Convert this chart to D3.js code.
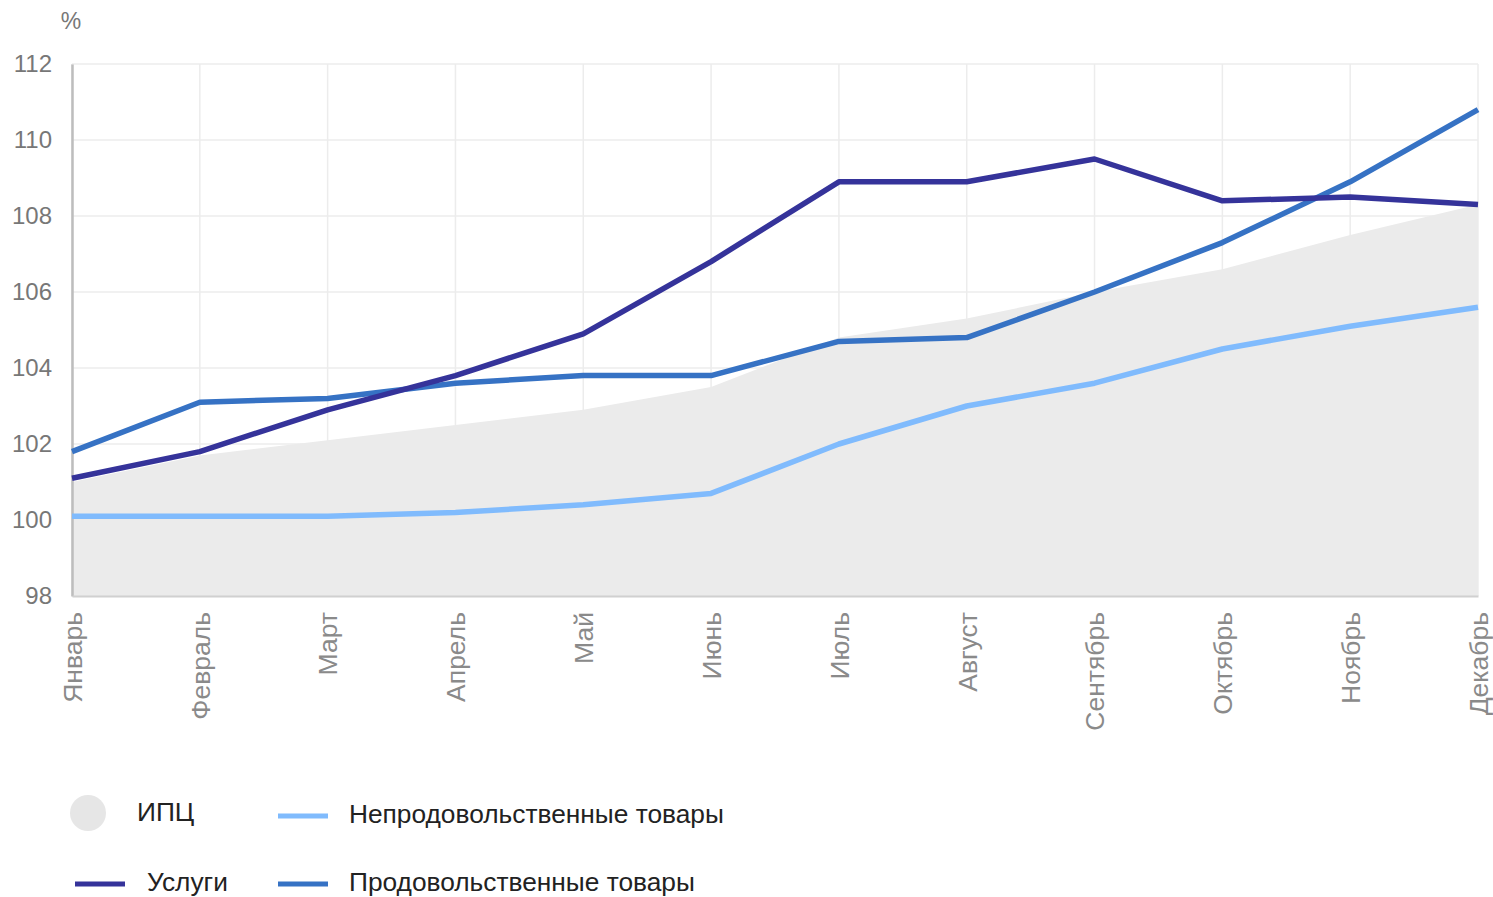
<!DOCTYPE html>
<html>
<head>
<meta charset="utf-8">
<script src="https://cdn.jsdelivr.net/npm/d3@7"></script>
<style>
body{margin:0;background:#fff;}
text{font-family:"Liberation Sans",Arial,sans-serif;}
</style>
</head>
<body>
<svg id="chart" width="1493" height="897"></svg>
<script>
var months=["Январь","Февраль","Март","Апрель","Май","Июнь","Июль","Август","Сентябрь","Октябрь","Ноябрь","Декабрь"];
var cpi=[101.0,101.7,102.1,102.5,102.9,103.5,104.8,105.3,106.0,106.6,107.5,108.3];
var services=[101.1,101.8,102.9,103.8,104.9,106.8,108.9,108.9,109.5,108.4,108.5,108.3];
var food=[101.8,103.1,103.2,103.6,103.8,103.8,104.7,104.8,106.0,107.3,108.9,110.8];
var nonFood=[100.1,100.1,100.1,100.2,100.4,100.7,102.0,103.0,103.6,104.5,105.1,105.6];
var yTicks=[98,100,102,104,106,108,110,112];

var svg=d3.select("#chart");
var mLeft=72,mRight=1478,mTop=64,mBottom=596;
var font="'Liberation Sans',Arial,sans-serif";

var x=d3.scalePoint().domain(months).range([mLeft,mRight]);
var y=d3.scaleLinear().domain([98,112]).range([mBottom,mTop]);

//grid
svg.append("g").selectAll("line").data(yTicks).enter().append("line")
    .attr("x1",mLeft).attr("x2",mRight)
    .attr("y1",function(d){return y(d);}).attr("y2",function(d){return y(d);})
    .attr("stroke","#ececec").attr("stroke-width",1.5);
svg.append("g").selectAll("line").data(months).enter().append("line")
    .attr("x1",function(d){return x(d);}).attr("x2",function(d){return x(d);})
    .attr("y1",mTop).attr("y2",mBottom)
    .attr("stroke","#ececec").attr("stroke-width",1.5);

//CPI area
var area=d3.area()
    .x(function(d,i){return x(months[i]);})
    .y0(y(98)).y1(function(d){return y(d);});
svg.append("path").datum(cpi).attr("d",area).attr("fill","#ebebeb");

//axes
var yAxis=d3.axisLeft(y).tickValues(yTicks).tickSize(0).tickPadding(20);
var gy=svg.append("g").attr("transform","translate("+mLeft+",0)").call(yAxis);
gy.select(".domain").attr("stroke","#bdbdbd").attr("stroke-width",2.5);
gy.selectAll("text").attr("font-size","24px").attr("fill","#777").attr("font-family",font);

var xAxis=d3.axisBottom(x).tickSize(0).tickPadding(0);
var gx=svg.append("g").attr("transform","translate(0,"+mBottom+")").call(xAxis);
gx.select(".domain").attr("stroke","#d0d0d0").attr("stroke-width",2);
gx.selectAll("text")
    .attr("font-size","26.5px").attr("fill","#8a8a8a").attr("font-family",font)
    .attr("text-anchor","end").attr("dy","0.35em")
    .attr("transform","translate(0,16) rotate(-90)")
    .attr("y",0).attr("x",0);

svg.append("text").attr("x",71).attr("y",29).attr("text-anchor","middle")
    .attr("font-size","23px").attr("fill","#777").text("%");

//lines
var line=d3.line().x(function(d,i){return x(months[i]);}).y(function(d){return y(d);});
var series=[
    {values:nonFood,color:"#80bbfd"},
    {values:food,color:"#3672c4"},
    {values:services,color:"#35339a"}
];
svg.append("g").selectAll("path").data(series).enter().append("path")
    .attr("d",function(d){return line(d.values);})
    .attr("fill","none").attr("stroke",function(d){return d.color;})
    .attr("stroke-width",5.5).attr("stroke-linejoin","round");

//legend
var lg=svg.append("g");
lg.append("circle").attr("cx",88).attr("cy",813).attr("r",18).attr("fill","#e6e6e6");
lg.append("text").attr("x",137).attr("y",821).attr("font-size","26.3px").attr("fill","#222").text("ИПЦ");
var legendLines=[
    {x:278,y:816,color:"#80bbfd",tx:349,label:"Непродовольственные товары"},
    {x:75,y:884,color:"#35339a",tx:147,label:"Услуги"},
    {x:278,y:884,color:"#3672c4",tx:349,label:"Продовольственные товары"}
];
legendLines.forEach(function(d){
    lg.append("line").attr("x1",d.x).attr("x2",d.x+50).attr("y1",d.y).attr("y2",d.y)
        .attr("stroke",d.color).attr("stroke-width",5);
    lg.append("text").attr("x",d.tx).attr("y",d.y+7).attr("font-size","26.3px").attr("fill","#222").text(d.label);
});
</script>
</body>
</html>
